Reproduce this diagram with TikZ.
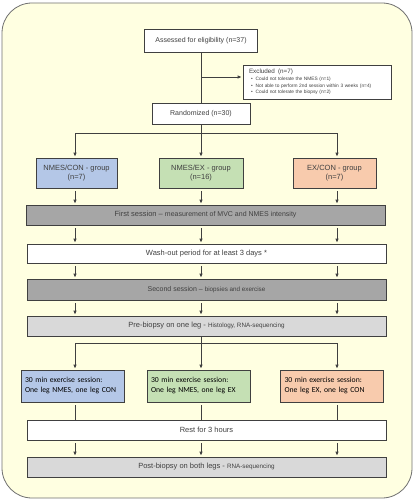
\documentclass[tikz,border=0pt]{standalone}
\usepackage{fontspec}
\setmainfont{Liberation Sans}
\newfontfamily\calibriFont{Carlito}
\usetikzlibrary{arrows.meta, positioning}
\definecolor{cremaclaro}{HTML}{FFFFE1}
\definecolor{grisgrafito}{HTML}{404040}
\definecolor{azuloffice}{HTML}{B4C7E7}
\definecolor{verdeoffice}{HTML}{C5E0B4}
\definecolor{naranjaoffice}{HTML}{F8CBAD}
\definecolor{grismedio}{HTML}{A6A6A6}
\definecolor{grisclaro}{HTML}{D9D9D9}
\colorlet{colFondo}{cremaclaro}
\colorlet{colMarco}{grisgrafito!75}
\colorlet{colLinea}{grisgrafito}
\colorlet{colTexto}{grisgrafito}
\colorlet{colNmesCon}{azuloffice}
\colorlet{colNmesEx}{verdeoffice}
\colorlet{colExCon}{naranjaoffice}
\colorlet{colSesion}{grismedio}
\colorlet{colBiopsia}{grisclaro}
\newcommand{\detalle}[2][6.3]{{\fontsize{#1}{7}\selectfont #2}}
\tikzset{
  boxBase/.style={
    draw=colLinea, semithick, align=center, inner sep=2pt,
    text=colTexto, fill=white, font=\fontsize{7.5}{9}\selectfont
  },
  boxWide/.style={boxBase, minimum width=359pt, minimum height=20pt},
  boxGroup/.style={boxBase, minimum height=30pt},
  boxExercise/.style={boxBase, align=left, minimum height=32pt,
    minimum width=103pt, text width=95pt, text=black,
    font=\calibriFont\fontsize{7.7}{10}\selectfont},
  arrowDown/.style={-{Triangle[length=3.5pt, width=3pt]}, colLinea,
    line width=0.6pt, shorten >=1.5pt},
  lineFlow/.style={colLinea, line width=0.6pt},
}

\begin{document}
\begin{tikzpicture}[x=1pt, y=-1pt]
    \useasboundingbox (0,0) rectangle (415,500);
    \draw[colMarco, thick, fill=colFondo, rounded corners=30pt] (2,3) rectangle (412,498);

    % enrolment
    \node[boxBase, minimum width=113pt, minimum height=23pt,
      font=\fontsize{7}{8}\selectfont] (elig) at (201,40.5)
      {Assessed for eligibility (n=37)};
    \node[boxBase, align=left, minimum width=148pt, minimum height=34pt,
      text width=140pt, font=\fontsize{4.8}{6.6}\selectfont] (excl) at (317,82)
      {\hspace{2pt}{\fontsize{6.3}{7}\selectfont Excluded\enspace(n=7)}\\
       \hspace{4pt}\textbullet\hspace{3pt}Could not tolerate the NMES (n=1)\\
       \hspace{4pt}\textbullet\hspace{3pt}Not able to perform 2nd session within 3 weeks (n=4)\\
       \hspace{4pt}\textbullet\hspace{3pt}Could not tolerate the biopsy (n=2)};
    \node[boxBase, minimum width=98pt, minimum height=21pt,
      font=\fontsize{7}{8}\selectfont] (rand) at (201,113.5) {Randomized (n=30)};

    % groups
    \node[boxGroup, fill=colNmesCon, minimum width=81pt] (nmesCon) at (76.5,173)
      {NMES/CON - group\\(n=7)};
    \node[boxGroup, fill=colNmesEx, minimum width=84pt] (nmesEx) at (201,173)
      {NMES/EX - group\\(n=16)};
    \node[boxGroup, fill=colExCon, minimum width=83pt] (exCon) at (334.5,173)
      {EX/CON - group\\(n=7)};

    % sessions
    \node[boxWide, fill=colSesion] (first) at (205.5,215)
      {First session -- \detalle[7]{measurement of MVC and NMES intensity}};
    \node[boxWide, minimum height=19pt] (wash) at (206.5,253.5)
      {Wash-out period for at least 3 days *};
    \node[boxWide, fill=colSesion, minimum height=21pt,
      font=\fontsize{7}{8}\selectfont] (second) at (206.5,289.5)
      {Second session -- \detalle{biopsies and exercise}};
    \node[boxWide, fill=colBiopsia] (pre) at (206.5,326)
      {Pre-biopsy on one leg - \detalle{Histology, RNA-sequencing}};

    \node[boxExercise, fill=colNmesCon] (exNmesCon) at (72.5,386)
      {30 min exercise session:\\One leg NMES, one leg CON};
    \node[boxExercise, fill=colNmesEx] (exNmesEx) at (198.5,386)
      {30 min exercise session:\\One leg NMES, one leg EX};
    \node[boxExercise, fill=colExCon] (exExCon) at (332,386)
      {30 min exercise session:\\One leg EX, one leg CON};

    \node[boxWide] (rest) at (206.5,430) {Rest for 3 hours};
    \node[boxWide, fill=colBiopsia] (post) at (206.5,467)
      {Post-biopsy on both legs - \detalle{RNA-sequencing}};

    % columns and forks
    \coordinate (colA) at (75,0);
    \coordinate (colB) at (201,0);
    \coordinate (colC) at (337,0);
    \coordinate (exclTap) at (202,77);
    \coordinate (forkA) at (75,133);
    \coordinate (forkC) at (337,133);
    \coordinate (forkD) at (75,343);
    \coordinate (forkF) at (337,343);

    \draw[lineFlow] (elig) -- (rand);
    \draw[arrowDown] (exclTap) -- (excl.west |- exclTap);
    \draw[lineFlow] (forkA) -- (forkC);
    \draw[arrowDown] (rand) -- (nmesEx);
    \draw[arrowDown] (forkA) -- (nmesCon.north -| forkA);
    \draw[arrowDown] (forkC) -- (exCon.north -| forkC);

    \foreach \g/\c in {nmesCon/colA, nmesEx/colB, exCon/colC}
      \draw[arrowDown, shorten <=3pt] (\g.south -| \c) -- (first.north -| \c);
    \foreach \a/\b in {first/wash, wash/second, second/pre, rest/post}
      \foreach \c in {colA, colB, colC}
        \draw[arrowDown, shorten <=3pt] (\a.south -| \c) -- (\b.north -| \c);

    \draw[lineFlow] (forkD) -- (forkF);
    \draw[arrowDown] (pre.south -| colB) -- (exNmesEx.north -| colB);
    \draw[arrowDown] (forkD) -- (exNmesCon.north -| forkD);
    \draw[arrowDown] (forkF) -- (exExCon.north -| forkF);
    \foreach \e/\c in {exNmesCon/colA, exNmesEx/colB, exExCon/colC}
      \draw[lineFlow, shorten <=3pt] (\e.south -| \c) -- (rest.north -| \c);
  \end{tikzpicture}
\end{document}
